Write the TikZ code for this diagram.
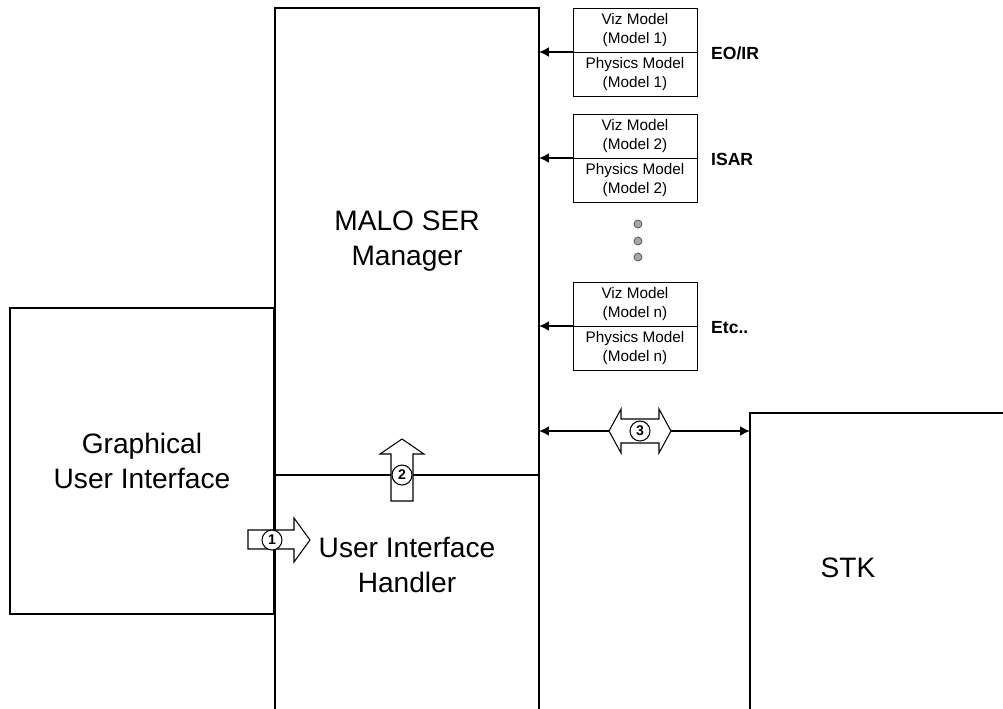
\documentclass[tikz,border=0pt]{standalone}
\usepackage{fontspec}
\setmainfont{Liberation Sans}
\usetikzlibrary{arrows.meta}

\begin{document}
\begin{tikzpicture}[x=0.02cm, y=-0.02cm, >={Latex[length=2mm,width=2mm]},
    every node/.style={align=center, font=\fontsize{16}{20}\selectfont}]

% Styles for the boxes and arrows
\tikzset{
    bigbox/.style={
        draw=black, 
        line width=0.8pt, 
        inner sep=0pt, 
        outer sep=0pt, 
        anchor=north west
    },
    modelbox/.style={
        draw=black, 
        line width=0.5pt, 
        inner sep=0pt, 
        outer sep=0pt, 
        anchor=north west,
        minimum width=2.48cm, 
        minimum height=0.88cm,
        font=\fontsize{8.7}{11}\selectfont
    },
    sensortag/.style={anchor=west, font=\bfseries\fontsize{10}{12}\selectfont},
    feed/.style={->, line width=1.1pt},
    blockarrow/.style={draw=black, line width=0.6pt, fill=white},
    stepnum/.style={circle, draw=black, line width=0.6pt, fill=white, inner sep=0pt,
        minimum size=0.4cm, font=\bfseries\fontsize{8}{9}\selectfont}
}

\useasboundingbox (0,0) rectangle (1003,708);
\clip (0,0) rectangle (1003,708);

% =============================================
% MAIN BLOCKS
% =============================================
\node[bigbox, minimum width=5.28cm, minimum height=9.34cm] (malo) at (275,8) {};
\node (malolbl) at (malo.center) {MALO SER\\Manager};

\node[bigbox, minimum width=5.28cm, minimum height=4.9cm] (uih) at (275,475) {};
\node (uihlbl) at (407,565) {User Interface\\Handler};

\node[bigbox, minimum width=5.28cm, minimum height=6.12cm] (gui) at (10,308) {Graphical\\User Interface};

\node[bigbox, minimum width=5.6cm, minimum height=6.2cm] (stk) at (750,413) {};
\node (stklbl) at (848,568) {STK};

% =============================================
% SENSOR MODELS (Viz + Physics)
% =============================================
\foreach \n/\ytop/\m/\lbl in {1/8/1/{EO/IR}, 2/114/2/ISAR, 3/282/n/Etc..} {
    \node[modelbox] (viz\n) at (573,\ytop) {Viz Model\\(Model \m)};
    \node[modelbox, anchor=north] (phy\n) at (viz\n.south) {Physics Model\\(Model \m)};
    \draw[feed] (viz\n.south west) -- (malo.east |- viz\n.south west);
    \node[sensortag] (tag\n) at ([xshift=0.16cm, yshift=-0.03cm]phy\n.north east) {\lbl};
}

% dots between model 2 and model n
\foreach \k/\yy in {1/224, 2/241, 3/257}
    \node[circle, draw=black!70, fill=gray!70, line width=0.4pt, inner sep=0pt,
        minimum size=0.16cm] (dot\k) at (638,\yy) {};

% =============================================
% LINK TO STK
% =============================================
\coordinate (link) at (0,431);
\draw[<->, line width=1.1pt] (malo.east |- link) -- (stk.west |- link);

% block arrows with step numbers
\draw[blockarrow] (609,431) -- (621,409) -- (621,419) -- (659,419) -- (659,409) -- (671,431)
    -- (659,453) -- (659,443) -- (621,443) -- (621,453) -- cycle;
\node[stepnum] (s3) at (640,431) {3};

\draw[blockarrow] (402,439) -- (424,454) -- (413,454) -- (413,501) -- (391,501) -- (391,454)
    -- (380,454) -- cycle;
\node[stepnum] (s2) at (402,475) {2};

\draw[blockarrow] (310,540) -- (294,562) -- (294,549) -- (248,549) -- (248,530) -- (294,530)
    -- (294,518) -- cycle;
\node[stepnum] (s1) at (272,540) {1};

\end{tikzpicture}
\end{document}
